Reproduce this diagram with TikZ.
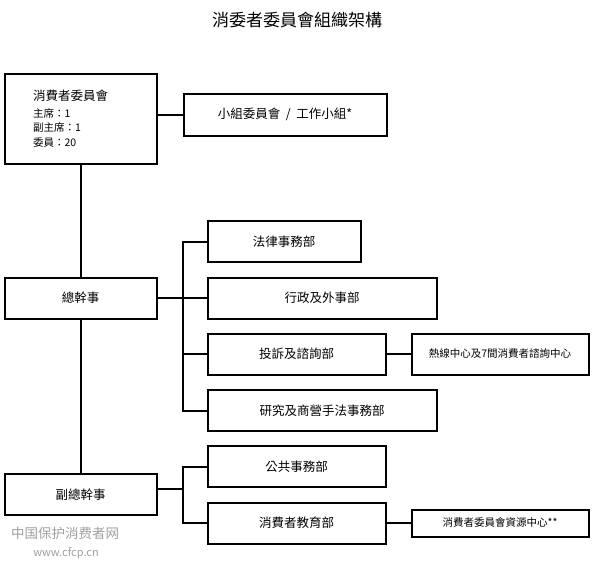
\documentclass[tikz,border=0pt]{standalone}
\usepackage{fontspec}
\usepackage{tikz}
\usepackage{xcolor}
\setmainfont{Noto Sans CJK TC}

\begin{document}
\begin{tikzpicture}[
  x=1pt, y=-1pt,
  font=\fontsize{12.5}{15}\selectfont,
  unit/.style={draw, line width=2pt, inner sep=0pt, minimum height=41pt},
  centre/.style={unit, font=\fontsize{10.5}{12}\selectfont},
  link/.style={line width=2pt},
  stamp/.style={text=gray!75},
]
\useasboundingbox (0,0) rectangle (597,565);

\node[font=\fontsize{17}{20}\selectfont] (title) at (297,20) {消委者委員會組織架構};

\node[unit, minimum width=152pt, minimum height=90pt, text width=95pt, align=left] (board) at (80.5,118.5) {%
  消費者委員會\\[3pt]
  \fontsize{10.5}{14}\selectfont 主席：1\\副主席：1\\委員：20};
\node[unit, minimum width=203pt, minimum height=42pt] (panel) at (285,114.5) {小組委員會 \ / \ 工作小組*};
\draw[link] (board.east |- panel.west) -- (panel.west);

\node[unit, minimum width=152pt] (ceo) at (80.5,298) {總幹事};
\draw[link] (board) -- (ceo);

\coordinate (fork) at (183,298);
\node[unit, minimum width=153pt] (legal) at (284,241.5) {法律事務部};
\node[unit, minimum width=229pt] (admin) at (322,298) {行政及外事部};
\node[unit, minimum width=178pt] (complaint) at (296.5,354) {投訴及諮詢部};
\node[centre, minimum width=177pt] (hotline) at (500,354) {熱線中心及7間消費者諮詢中心};
\node[unit, minimum width=229pt] (research) at (322,410.5) {研究及商營手法事務部};
\draw[link] (ceo) -- (admin);
\draw[link] (legal.west) -| (fork) |- (research.west);
\draw[link] (complaint.west) -- (complaint.west -| fork);
\draw[link] (complaint) -- (hotline);

\node[unit, minimum width=152pt] (deputy) at (80.5,494.5) {副總幹事};
\draw[link] (ceo) -- (deputy);

\coordinate (fork2) at (183,489);
\node[unit, minimum width=178pt] (public) at (296.5,466.5) {公共事務部};
\node[unit, minimum width=178pt] (edu) at (296.5,523) {消費者教育部};
\node[centre, minimum width=177pt, minimum height=27pt] (resource) at (500,523) {消費者委員會資源中心**};
\draw[link] (deputy.east |- fork2) -- (fork2);
\draw[link] (public.west) -| (fork2) |- (edu.west);
\draw[link] (edu) -- (resource);

% watermark
\node[stamp, font=\fontsize{13.5}{15}\selectfont] (wmark) at (65,533) {中国保护消费者网};
\node[stamp, font=\fontsize{11}{13}\selectfont] (wurl) at (66,553) {www.cfcp.cn};

\end{tikzpicture}
\end{document}
